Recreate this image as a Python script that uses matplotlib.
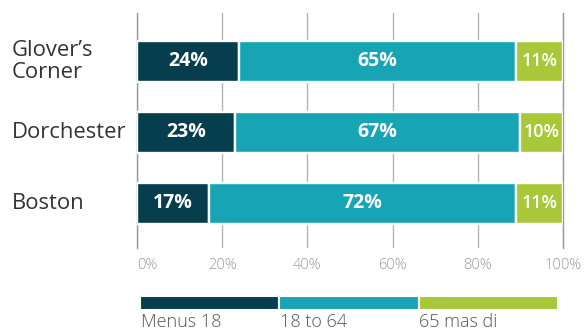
import matplotlib
matplotlib.use("Agg")
import matplotlib.pyplot as plt
from matplotlib.transforms import blended_transform_factory

plt.rcParams["font.family"] = ["Open Sans", "DejaVu Sans"]

# data
places = ["Glover\u2019s\nCorner", "Dorchester", "Boston"]
under_18 = [24, 23, 17]
age_18_64 = [65, 67, 72]
over_65 = [11, 10, 11]
series_names = ["Menus 18", "18 to 64", "65 mas di"]
x_ticks = [0, 20, 40, 60, 80, 100]

DARK = "#063e4e"
TEAL = "#17a5b5"
GREEN = "#a8c83a"
GRID = "#b3b3b3"

fig = plt.figure(figsize=(5.87, 3.33), dpi=100)
ax = fig.add_axes([137 / 587, 1 - 248 / 333, (563 - 137) / 587, (248 - 13) / 333])

ypos = [2, 1, 0]
colors = [DARK, TEAL, GREEN]
left = [0, 0, 0]
for vals, col in zip([under_18, age_18_64, over_65], colors):
    bars = ax.barh(ypos, vals, left=left, height=0.57, color=col,
                   edgecolor="white", linewidth=1.7, zorder=3)
    for b, v in zip(bars, vals):
        cx = b.get_x() + b.get_width() / 2
        cy = b.get_y() + b.get_height() / 2
        small = v < 15
        ax.text(cx, cy, f"{v}%", ha="center", va="center", color="white",
                fontsize=13 if small else 14, fontweight="semibold" if small else "bold",
                zorder=4)
    left = [l + v for l, v in zip(left, vals)]

ax.set_xlim(0, 100)
ax.set_ylim(-0.63, 2.68)
ax.set_xticks(x_ticks)
ax.set_xticklabels([f"{t}%" for t in x_ticks], color="#9a9a9a", fontsize=10.5,
                   fontweight="light")
ax.get_xticklabels()[0].set_horizontalalignment("left")
ax.tick_params(axis="x", length=0, pad=7)
ax.set_yticks([])
ax.grid(axis="x", color=GRID, linewidth=1, zorder=0)
for s in ["top", "bottom"]:
    ax.spines[s].set_visible(False)
for s in ["left", "right"]:
    ax.spines[s].set_color("#999999")
    ax.spines[s].set_linewidth(1)

# category labels at the left edge of the figure
trans = blended_transform_factory(fig.transFigure, ax.transData)
for y, name in zip(ypos, places):
    ax.text(12 / 587, y, name, transform=trans, ha="left", va="center",
            fontsize=15.8, color="#333333", linespacing=1.05)

# legend drawn as a strip of colour blocks with labels underneath
lax = fig.add_axes([140 / 587, 1 - 310 / 333, (558 - 140) / 587, 14 / 333])
lax.barh([0, 0, 0], [1, 1, 1], left=[0, 1, 2], height=1, color=colors,
         edgecolor="white", linewidth=1.5)
lax.set_xlim(0, 3)
lax.set_ylim(-0.5, 0.5)
lax.axis("off")
for i, name in enumerate(series_names):
    lax.text(i + 0.005, -0.7, name, ha="left", va="top", fontsize=13,
             color="#555555", fontweight="light")

fig.savefig("out.png", dpi=100)
